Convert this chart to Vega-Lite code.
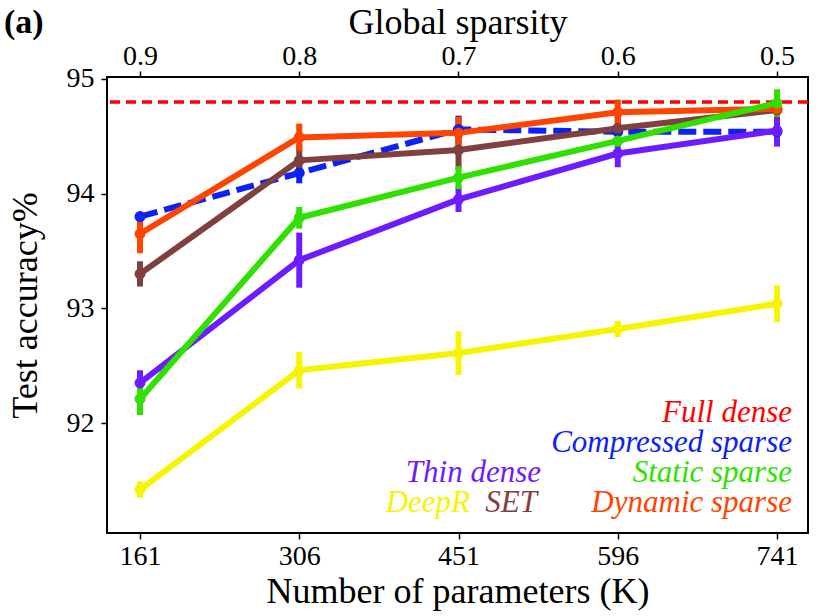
{
  "$schema": "https://vega.github.io/schema/vega-lite/v6.json",
  "width": 701,
  "height": 456,
  "autosize": "none",
  "padding": {"left": 107, "top": 77, "right": 22, "bottom": 83},
  "background": "white",
  "title": {"text": "(a)", "anchor": "start", "frame": "group", "orient": "top", "dx": -103, "dy": 40, "fontSize": 34, "fontWeight": "bold", "font": "'Liberation Serif', 'DejaVu Serif', serif", "color": "black"},
  "config": {
    "font": "'Liberation Serif', 'DejaVu Serif', serif",
    "view": {"stroke": "black", "strokeWidth": 2},
    "axis": {"grid": false, "domain": false, "tickColor": "black", "tickWidth": 1.5, "tickSize": 6, "labelColor": "black", "titleColor": "black", "labelFontSize": 28, "titleFontSize": 36, "titleFontWeight": "normal", "labelFont": "'Liberation Serif', 'DejaVu Serif', serif", "titleFont": "'Liberation Serif', 'DejaVu Serif', serif"},
    "text": {"font": "'Liberation Serif', 'DejaVu Serif', serif"}
  },
  "datasets": {
    "acc": [
      {"series": "Compressed sparse", "params": 161, "acc": 93.80, "lo": 93.77, "hi": 93.83},
      {"series": "Compressed sparse", "params": 306, "acc": 94.18, "lo": 94.09, "hi": 94.27},
      {"series": "Compressed sparse", "params": 451, "acc": 94.56, "lo": 94.44, "hi": 94.68},
      {"series": "Compressed sparse", "params": 596, "acc": 94.54, "lo": 94.49, "hi": 94.59},
      {"series": "Compressed sparse", "params": 741, "acc": 94.54, "lo": 94.44, "hi": 94.64},
      {"series": "Thin dense", "params": 161, "acc": 92.35, "lo": 92.24, "hi": 92.46},
      {"series": "Thin dense", "params": 306, "acc": 93.42, "lo": 93.18, "hi": 93.66},
      {"series": "Thin dense", "params": 451, "acc": 93.95, "lo": 93.84, "hi": 94.06},
      {"series": "Thin dense", "params": 596, "acc": 94.35, "lo": 94.23, "hi": 94.47},
      {"series": "Thin dense", "params": 741, "acc": 94.55, "lo": 94.41, "hi": 94.69},
      {"series": "DeepR", "params": 161, "acc": 91.42, "lo": 91.35, "hi": 91.49},
      {"series": "DeepR", "params": 306, "acc": 92.46, "lo": 92.30, "hi": 92.62},
      {"series": "DeepR", "params": 451, "acc": 92.61, "lo": 92.42, "hi": 92.80},
      {"series": "DeepR", "params": 596, "acc": 92.82, "lo": 92.75, "hi": 92.89},
      {"series": "DeepR", "params": 741, "acc": 93.04, "lo": 92.88, "hi": 93.20},
      {"series": "SET", "params": 161, "acc": 93.30, "lo": 93.19, "hi": 93.41},
      {"series": "SET", "params": 306, "acc": 94.29, "lo": 94.15, "hi": 94.43},
      {"series": "SET", "params": 451, "acc": 94.38, "lo": 94.21, "hi": 94.55},
      {"series": "SET", "params": 596, "acc": 94.57, "lo": 94.45, "hi": 94.69},
      {"series": "SET", "params": 741, "acc": 94.73, "lo": 94.66, "hi": 94.80},
      {"series": "Dynamic sparse", "params": 161, "acc": 93.65, "lo": 93.48, "hi": 93.82},
      {"series": "Dynamic sparse", "params": 306, "acc": 94.49, "lo": 94.37, "hi": 94.61},
      {"series": "Dynamic sparse", "params": 451, "acc": 94.53, "lo": 94.39, "hi": 94.67},
      {"series": "Dynamic sparse", "params": 596, "acc": 94.71, "lo": 94.60, "hi": 94.82},
      {"series": "Dynamic sparse", "params": 741, "acc": 94.74, "lo": 94.69, "hi": 94.79},
      {"series": "Static sparse", "params": 161, "acc": 92.21, "lo": 92.07, "hi": 92.35},
      {"series": "Static sparse", "params": 306, "acc": 93.79, "lo": 93.695, "hi": 93.885},
      {"series": "Static sparse", "params": 451, "acc": 94.14, "lo": 94.04, "hi": 94.24},
      {"series": "Static sparse", "params": 596, "acc": 94.46, "lo": 94.41, "hi": 94.51},
      {"series": "Static sparse", "params": 741, "acc": 94.79, "lo": 94.67, "hi": 94.91}
    ],
    "full": [{"series": "Full dense", "acc": 94.8}],
    "labels": [
      {"series": "Full dense", "label": "Full dense"},
      {"series": "Compressed sparse", "label": "Compressed sparse"},
      {"series": "Thin dense", "label": "Thin dense"},
      {"series": "Static sparse", "label": "Static sparse"},
      {"series": "DeepR", "label": "DeepR"},
      {"series": "SET", "label": "SET"},
      {"series": "Dynamic sparse", "label": "Dynamic sparse"}
    ],
    "sp": [{"sparsity": 0.9}, {"sparsity": 0.8}, {"sparsity": 0.7}, {"sparsity": 0.6}, {"sparsity": 0.5}]
  },
  "layer": [
    {
      "layer": [
        {"data": {"name": "full"}, "mark": {"type": "rule", "strokeWidth": 3.5, "strokeDash": [10, 6], "color": "#ff0000"},
         "encoding": {"y": {"field": "acc", "type": "quantitative", "scale": {"domain": [91.041, 95.017], "nice": false, "zero": false},
              "axis": {"values": [92, 93, 94, 95], "format": "d", "title": "Test accuracy%", "labelPadding": 7, "titlePadding": 22}}}},
        {"data": {"name": "acc"}, "transform": [{"filter": "datum.series === 'Compressed sparse'"}],
         "mark": {"type": "line", "strokeWidth": 6, "strokeDash": [18, 7], "color": "#0a22f5"},
         "encoding": {
           "x": {"field": "params", "type": "quantitative", "scale": {"domain": [130.95, 769.2], "nice": false, "zero": false},
                 "axis": {"orient": "bottom", "values": [161, 306, 451, 596, 741], "format": "d", "title": "Number of parameters (K)", "labelPadding": 3, "titlePadding": 4}},
           "y": {"field": "acc", "type": "quantitative"}}},
        {"data": {"name": "acc"}, "mark": {"type": "rule", "strokeWidth": 6},
         "encoding": {
           "x": {"field": "params", "type": "quantitative"},
           "y": {"field": "lo", "type": "quantitative"}, "y2": {"field": "hi"},
           "color": {"field": "series", "type": "nominal", "legend": null,
                  "scale": {"domain": ["Full dense", "Compressed sparse", "Thin dense", "Static sparse", "DeepR", "SET", "Dynamic sparse"],
                            "range": ["#ff0000", "#0a22f5", "#6e1cff", "#30e000", "#f5f500", "#804040", "#ff4400"]}}}},
        {"data": {"name": "acc"}, "transform": [{"filter": "datum.series !== 'Compressed sparse'"}],
         "mark": {"type": "line", "strokeWidth": 6, "strokeJoin": "round"},
         "encoding": {
           "x": {"field": "params", "type": "quantitative"},
           "y": {"field": "acc", "type": "quantitative"},
           "color": {"field": "series", "type": "nominal"}}},
        {"data": {"name": "acc"}, "mark": {"type": "circle", "size": 120, "opacity": 1},
         "encoding": {
           "x": {"field": "params", "type": "quantitative"},
           "y": {"field": "acc", "type": "quantitative"},
           "color": {"field": "series", "type": "nominal"}}},
        {"data": {"name": "labels"}, "transform": [{"filter": "datum.series === 'Full dense'"}],
         "mark": {"type": "text", "align": "right", "baseline": "alphabetic", "fontSize": 31, "fontStyle": "italic"},
         "encoding": {"x": {"datum": 754.6}, "y": {"datum": 92.009}, "text": {"field": "label"}, "color": {"field": "series", "type": "nominal"}}},
        {"data": {"name": "labels"}, "transform": [{"filter": "datum.series === 'Compressed sparse'"}],
         "mark": {"type": "text", "align": "right", "baseline": "alphabetic", "fontSize": 31, "fontStyle": "italic"},
         "encoding": {"x": {"datum": 754.6}, "y": {"datum": 91.747}, "text": {"field": "label"}, "color": {"field": "series", "type": "nominal"}}},
        {"data": {"name": "labels"}, "transform": [{"filter": "datum.series === 'Static sparse'"}],
         "mark": {"type": "text", "align": "right", "baseline": "alphabetic", "fontSize": 31, "fontStyle": "italic"},
         "encoding": {"x": {"datum": 754.6}, "y": {"datum": 91.486}, "text": {"field": "label"}, "color": {"field": "series", "type": "nominal"}}},
        {"data": {"name": "labels"}, "transform": [{"filter": "datum.series === 'Thin dense'"}],
         "mark": {"type": "text", "align": "right", "baseline": "alphabetic", "fontSize": 31, "fontStyle": "italic"},
         "encoding": {"x": {"datum": 526.1}, "y": {"datum": 91.486}, "text": {"field": "label"}, "color": {"field": "series", "type": "nominal"}}},
        {"data": {"name": "labels"}, "transform": [{"filter": "datum.series === 'Dynamic sparse'"}],
         "mark": {"type": "text", "align": "right", "baseline": "alphabetic", "fontSize": 31, "fontStyle": "italic"},
         "encoding": {"x": {"datum": 754.6}, "y": {"datum": 91.224}, "text": {"field": "label"}, "color": {"field": "series", "type": "nominal"}}},
        {"data": {"name": "labels"}, "transform": [{"filter": "datum.series === 'SET'"}],
         "mark": {"type": "text", "align": "right", "baseline": "alphabetic", "fontSize": 31, "fontStyle": "italic"},
         "encoding": {"x": {"datum": 522.5}, "y": {"datum": 91.224}, "text": {"field": "label"}, "color": {"field": "series", "type": "nominal"}}},
        {"data": {"name": "labels"}, "transform": [{"filter": "datum.series === 'DeepR'"}],
         "mark": {"type": "text", "align": "right", "baseline": "alphabetic", "fontSize": 31, "fontStyle": "italic"},
         "encoding": {"x": {"datum": 461.5}, "y": {"datum": 91.224}, "text": {"field": "label"}, "color": {"field": "series", "type": "nominal"}}}
      ]
    },
    {
      "data": {"name": "sp"},
      "mark": {"type": "point", "opacity": 0},
      "encoding": {
        "x": {"field": "sparsity", "type": "quantitative", "scale": {"domain": [0.9207, 0.4805], "nice": false, "zero": false},
              "axis": {"orient": "top", "values": [0.9, 0.8, 0.7, 0.6, 0.5], "format": ".1f", "title": "Global sparsity", "labelPadding": 1, "titlePadding": 1}}
      }
    }
  ],
  "resolve": {"scale": {"x": "independent"}}
}
